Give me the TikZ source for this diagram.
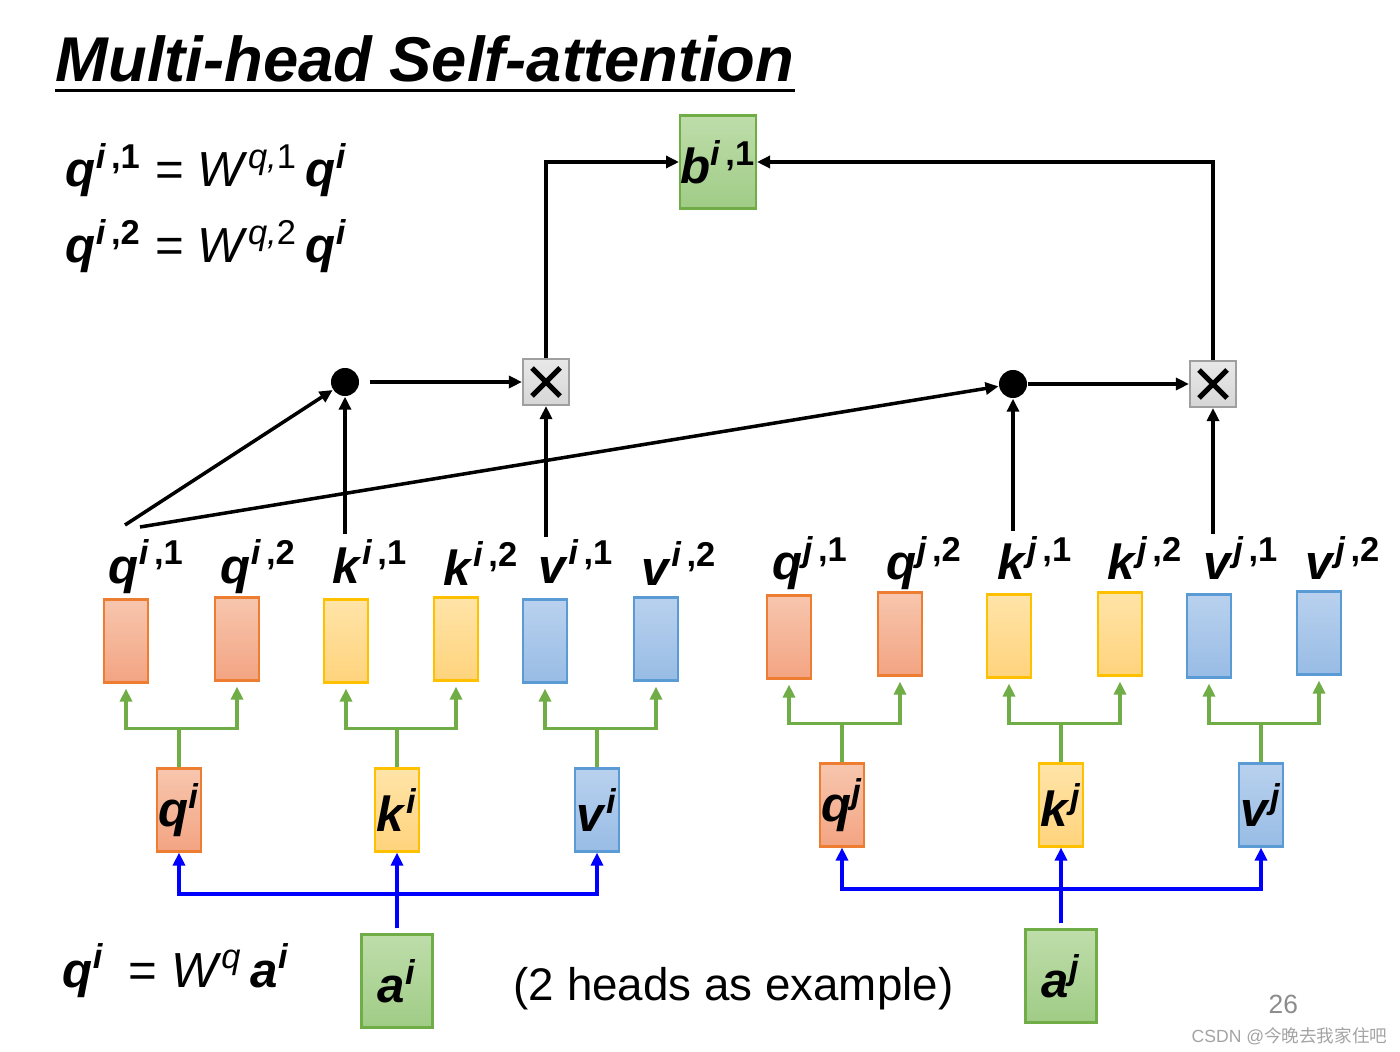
\documentclass[tikz,border=0pt]{standalone}
\usepackage{fontspec}
\setmainfont{Liberation Sans}
\newfontfamily\cjkfont{Noto Sans CJK SC}
\usetikzlibrary{arrows.meta}
\definecolor{qedge}{HTML}{ED7D31}
\definecolor{qtop}{HTML}{F7C6AE}
\definecolor{qbot}{HTML}{F3A482}
\definecolor{kedge}{HTML}{FFC000}
\definecolor{ktop}{HTML}{FFE4A8}
\definecolor{kbot}{HTML}{FFD37C}
\definecolor{vedge}{HTML}{5B9BD5}
\definecolor{vtop}{HTML}{B9D1EE}
\definecolor{vbot}{HTML}{98BCE5}
\definecolor{aedge}{HTML}{70AD47}
\definecolor{atop}{HTML}{BEDDAA}
\definecolor{abot}{HTML}{A0CC86}
\definecolor{treegreen}{HTML}{70AD47}
\definecolor{slidegray}{HTML}{8C8C8C}
\newcommand{\vsym}[2]{\textbf{\textit{#1}}\textsuperscript{\bfseries\itshape #2}}
\tikzset{
  vecbox/.style={rectangle, draw=#1edge, line width=0.6pt, top color=#1top, bottom color=#1bot,
                 minimum width=0.44cm, minimum height=0.83cm, inner sep=0pt,
                 font=\fontsize{14}{16}\selectfont},
  bigbox/.style={vecbox=#1, minimum width=0.71cm, minimum height=0.93cm},
  opbox/.style={rectangle, draw=gray!75, line width=0.6pt, top color=gray!18, bottom color=gray!32,
                minimum size=0.46cm, inner sep=0pt,
                path picture={\draw[draw=black, line width=1.5pt]
                  ([shift={(-14,-14)}]path picture bounding box.center) -- ([shift={(14,14)}]path picture bounding box.center)
                  ([shift={(-14,14)}]path picture bounding box.center) -- ([shift={(14,-14)}]path picture bounding box.center);}},
  dotnode/.style={circle, fill=black, minimum size=0.28cm, inner sep=0pt},
  lab/.style={inner sep=0pt, anchor=base west, font=\fontsize{14}{16}\selectfont},
  arr/.style={-{Triangle[length=1.3mm,width=1.2mm]}, line width=1pt},
  grnarr/.style={-{Triangle[length=1.3mm,width=1.2mm]}, line width=0.9pt, draw=treegreen, shorten >=0.5mm},
  bluarr/.style={-{Triangle[length=1.3mm,width=1.2mm]}, line width=1.1pt, draw=blue},
}
\begin{document}
\begin{tikzpicture}[x=0.01cm, y=-0.01cm]
        \useasboundingbox (0,0) rectangle (1400,1052);
        % title and formulas
        \node[inner sep=0pt, anchor=base west, font=\fontsize{18}{22}\selectfont\bfseries\itshape] (title) at (55,82)
          {Multi-head Self-attention};
        \draw[line width=0.9pt] ([yshift=-2.4pt]title.base west) -- ([yshift=-2.4pt]title.base east);
        \node[lab] (eq1) at (65,187) {\vsym{q}{i\,\upshape,1} = \textit{W}\textsuperscript{\itshape q,\upshape1}\,\vsym{q}{i}};
        \node[lab] (eq2) at (65,263) {\vsym{q}{i\,\upshape,2} = \textit{W}\textsuperscript{\itshape q,\upshape2}\,\vsym{q}{i}};
        \node[lab] (eq3) at (62,987) {\vsym{q}{i}\enspace = \textit{W}\textsuperscript{\itshape q}\,\vsym{a}{i}};

        % output, products and dots
        \node[bigbox=a] (b) at (718,162) {\vsym{b}{i\,\upshape,1}};
        \node[opbox] (x1) at (546,382) {};
        \node[opbox] (x2) at (1213,384) {};
        \node[dotnode] (d1) at (345,382) {};
        \node[dotnode] (d2) at (1013,384) {};

        % heads of a^i
        \node[vecbox=q] (qi1) at (126,641) {};
        \node[vecbox=q] (qi2) at (237,639) {};
        \node[vecbox=k] (ki1) at (346,641) {};
        \node[vecbox=k] (ki2) at (456,639) {};
        \node[vecbox=v] (vi1) at (545,641) {};
        \node[vecbox=v] (vi2) at (656,639) {};
        \node[lab] (lqi1) at (108,583) {\vsym{q}{i\,\upshape,1}};
        \node[lab] (lqi2) at (220,583) {\vsym{q}{i\,\upshape,2}};
        \node[lab] (lki1) at (332,583) {\vsym{k}{i\,\upshape,1}};
        \node[lab] (lki2) at (443,585) {\vsym{k}{i\,\upshape,2}};
        \node[lab] (lvi1) at (538,583) {\vsym{v}{i\,\upshape,1}};
        \node[lab] (lvi2) at (641,585) {\vsym{v}{i\,\upshape,2}};

        % heads of a^j
        \node[vecbox=q] (qj1) at (789,637) {};
        \node[vecbox=q] (qj2) at (900,634) {};
        \node[vecbox=k] (kj1) at (1009,636) {};
        \node[vecbox=k] (kj2) at (1120,634) {};
        \node[vecbox=v] (vj1) at (1209,636) {};
        \node[vecbox=v] (vj2) at (1319,633) {};
        \node[lab] (lqj1) at (772,580) {\vsym{q}{j\,\upshape,1}};
        \node[lab] (lqj2) at (886,580) {\vsym{q}{j\,\upshape,2}};
        \node[lab] (lkj1) at (997,580) {\vsym{k}{j\,\upshape,1}};
        \node[lab] (lkj2) at (1107,580) {\vsym{k}{j\,\upshape,2}};
        \node[lab] (lvj1) at (1203,580) {\vsym{v}{j\,\upshape,1}};
        \node[lab] (lvj2) at (1305,580) {\vsym{v}{j\,\upshape,2}};

        % q, k, v and inputs
        \node[vecbox=q] (qi) at (179,810) {\vsym{q}{i}};
        \node[vecbox=k] (ki) at (397,810) {\vsym{k}{i}};
        \node[vecbox=v] (vi) at (597,810) {\vsym{v}{i}};
        \node[vecbox=q] (qj) at (842,805) {\vsym{q}{j}};
        \node[vecbox=k] (kj) at (1061,805) {\vsym{k}{j}};
        \node[vecbox=v] (vj) at (1261,805) {\vsym{v}{j}};
        \node[bigbox=a] (ai) at (397,981) {\vsym{a}{i}};
        \node[bigbox=a] (aj) at (1061,976) {\vsym{a}{j}};

        \node[anchor=base west, inner sep=0pt, font=\fontsize{13}{15}\selectfont] (note) at (513,1000) {(2 heads as example)};
        \node[anchor=base west, inner sep=0pt, font=\fontsize{7.5}{9}\selectfont, text=slidegray] (page) at (1268,1013) {26};
        \node[anchor=base east, inner sep=0pt, font=\fontsize{5}{6}\selectfont, text=slidegray!80] (mark) at (1388,1042)
          {CSDN @{\cjkfont 今晚去我家住吧}};

        % attention of head 1
        \coordinate (qi1a) at (125,525);
        \coordinate (qi1b) at (140,527);
        \draw[arr] (qi1a) -- (d1);
        \draw[arr] (qi1b) -- (d2);
        \draw[arr, shorten <=0.5mm] (lki1.north -| d1) -- (d1);
        \draw[arr, shorten <=0.2mm] (lvi1.north -| x1) -- (x1);
        \draw[arr, shorten <=0.5mm] (lkj1.north -| d2) -- (d2);
        \draw[arr, shorten <=0.2mm] (lvj1.north -| x2) -- (x2);
        \draw[arr, shorten <=1mm] (d1) -- (x1);
        \draw[arr] (d2) -- (x2);
        \draw[arr] (x1) |- (b);
        \draw[arr] (x2) |- (b);

        % splitting into heads
        \draw[grnarr] (qi.north) -- ++(0,-39) -| (qi1.south);
        \draw[grnarr] (qi.north) -- ++(0,-39) -| (qi2.south);
        \draw[grnarr] (ki.north) -- ++(0,-39) -| (ki1.south);
        \draw[grnarr] (ki.north) -- ++(0,-39) -| (ki2.south);
        \draw[grnarr] (vi.north) -- ++(0,-39) -| (vi1.south);
        \draw[grnarr] (vi.north) -- ++(0,-39) -| (vi2.south);
        \draw[grnarr] (qj.north) -- ++(0,-39) -| (qj1.south);
        \draw[grnarr] (qj.north) -- ++(0,-39) -| (qj2.south);
        \draw[grnarr] (kj.north) -- ++(0,-39) -| (kj1.south);
        \draw[grnarr] (kj.north) -- ++(0,-39) -| (kj2.south);
        \draw[grnarr] (vj.north) -- ++(0,-39) -| (vj1.south);
        \draw[grnarr] (vj.north) -- ++(0,-39) -| (vj2.south);

        % from inputs
        \draw[bluarr, shorten <=0.5mm] (ai.north) -- ++(0,-39) -| (qi.south);
        \draw[bluarr, shorten <=0.5mm] (ai.north) -- (ki.south);
        \draw[bluarr, shorten <=0.5mm] (ai.north) -- ++(0,-39) -| (vi.south);
        \draw[bluarr, shorten <=0.5mm] (aj.north) -- ++(0,-39) -| (qj.south);
        \draw[bluarr, shorten <=0.5mm] (aj.north) -- (kj.south);
        \draw[bluarr, shorten <=0.5mm] (aj.north) -- ++(0,-39) -| (vj.south);
      \end{tikzpicture}
\end{document}
